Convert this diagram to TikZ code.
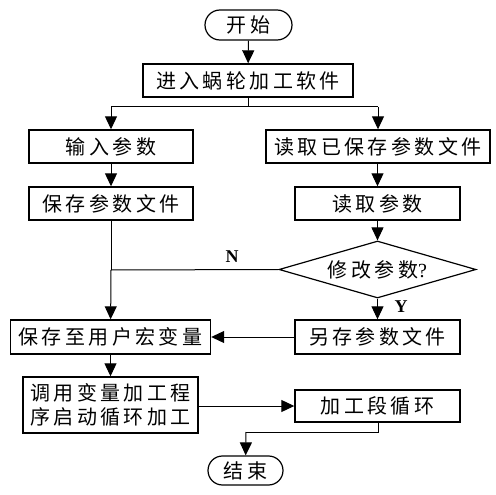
\documentclass[tikz,border=0pt]{standalone}
\usepackage{fontspec}
\newfontfamily\cjk[LetterSpace=17]{Noto Sans CJK SC}
\setmainfont{Liberation Serif}
\usetikzlibrary{arrows.meta,shapes.geometric,shapes.misc}
\tikzset{
  box/.style={draw, line width=1.4pt, rectangle, inner sep=0pt, font=\cjk\fontsize{20}{23.5}\selectfont, align=center},
  term/.style={draw, line width=1.2pt, rounded rectangle, inner sep=0pt, font=\cjk\fontsize{20}{23.5}\selectfont},
  dia/.style={draw, line width=1.2pt, diamond, aspect=3.6, inner sep=0pt, font=\cjk\fontsize{20}{23.5}\selectfont},
  conn/.style={line width=1pt},
  arr/.style={line width=1pt, -{Triangle[length=13pt,width=12pt]}},
  lab/.style={font=\rmfamily\bfseries\fontsize{18}{18}\selectfont, inner sep=0pt}
}
\begin{document}
\begin{tikzpicture}[x=1pt,y=-1pt]
\useasboundingbox (0,0) rectangle (496,495);
\node[term, minimum width=87pt, minimum height=30pt] (start) at (248.5,25) {开始};
\node[box, minimum width=210pt, minimum height=33pt] (enter) at (248,80.5) {进入蜗轮加工软件};
\node[box, minimum width=164pt, minimum height=33pt] (input) at (111,146.5) {输入参数};
\node[box, minimum width=224pt, minimum height=33pt] (readf) at (378,146.5) {读取已保存参数文件};
\node[box, minimum width=164pt, minimum height=33pt] (savef) at (111,203.5) {保存参数文件};
\node[box, minimum width=165pt, minimum height=33pt] (readp) at (377.5,203.5) {读取参数};
\node[dia, minimum width=197pt, minimum height=57pt] (mod) at (377.5,269.5) {修改参数{\rmfamily\fontsize{20}{20}\selectfont ?}};
\node[box, minimum width=165pt, minimum height=34pt] (saveas) at (377.5,337) {另存参数文件};
\node[box, minimum width=200pt, minimum height=34pt] (macro) at (110.5,337) {保存至用户宏变量};
\node[box, minimum width=175pt, minimum height=56pt] (call) at (110.5,405) {调用变量加工程\\序启动循环加工};
\node[box, minimum width=165pt, minimum height=32pt] (loop) at (377.5,406) {加工段循环};
\node[term, minimum width=75pt, minimum height=29pt] (end) at (245.5,470.5) {结束};
\coordinate (br) at (248,107);
\coordinate (bl) at (111,107);
\coordinate (brr) at (378,107);
\coordinate (nj) at (111,270);
\coordinate (lj) at (378,432);
\coordinate (lk) at (246,432);
\draw[arr] (start) -- (enter);
\draw[conn] (enter.south) -- (br);
\draw[arr] (bl) -- (input);
\draw[arr] (brr) -- (readf);
\draw[conn] (bl) -- (brr);
\draw[arr] (input) -- (savef);
\draw[arr] (readf.south -| readp) -- (readp);
\draw[arr] (readp) -- (mod);
\draw[conn] (savef.south) -- (nj);
\draw[arr] (nj) -- (macro);
\draw[conn] (mod.west) -- (nj);
\draw[arr] (mod) -- (saveas);
\draw[arr] (saveas) -- (macro);
\draw[arr] (macro.south -| call) -- (call);
\draw[arr] (call.east |- loop) -- (loop);
\draw[conn] (loop.south -| lj) -- (lj) -- (lk);
\draw[arr] (lk) -- (end);
\node[lab] (nlab) at (232,257) {N};
\node[lab] (ylab) at (401,307) {Y};
\end{tikzpicture}
\end{document}
